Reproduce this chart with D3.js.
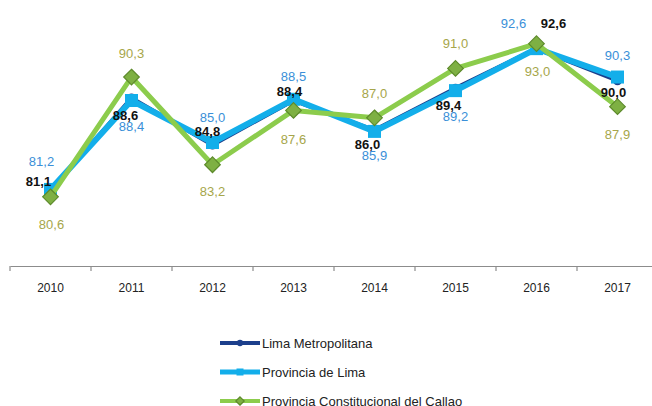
<!DOCTYPE html>
<html>
<head>
<meta charset="utf-8">
<script src="https://cdn.jsdelivr.net/npm/d3@7"></script>
<style>
  body { margin: 0; background: #fff; }
  svg { display: block; font-family: "Liberation Sans", Arial, sans-serif; }
</style>
</head>
<body>
<svg id="chart" width="652" height="406"></svg>
<script>
// data
var years = ["2010", "2011", "2012", "2013", "2014", "2015", "2016", "2017"];
var limaMetro = [81.1, 88.6, 84.8, 88.4, 86.0, 89.4, 92.6, 90.0];
var provLima = [81.2, 88.4, 85.0, 88.5, 85.9, 89.2, 92.6, 90.3];
var callao = [80.6, 90.3, 83.2, 87.6, 87.0, 91.0, 93.0, 87.9];
var seriesNames = ["Lima Metropolitana", "Provincia de Lima", "Provincia Constitucional del Callao"];

// label offsets (dx, dy) relative to each point
var metroOff = [[-12,-9],[-6,17],[-5,-14],[-4,-9],[-7,14],[-7,17],[17,-25],[-4,12]];
var provOff = [[-9,-28],[0,26],[0,-25],[0,-23],[0,24],[0,26],[-23,-25],[0,-22]];
var callaoOff = [[1,28],[0,-24],[0,27],[0,29],[0,-24],[0,-25],[1,28],[0,28]];

var svg = d3.select("#chart");

var x = d3.scaleBand().domain(years).range([10, 658]);
var y = d3.scaleLinear().domain([75, 95]).range([266, 19]);
var cx = function(i){ return x(years[i]) + x.bandwidth() / 2; };

// axis
var axis = svg.append("g")
    .attr("transform", "translate(0,266)")
    .call(d3.axisBottom(x).tickSize(0).tickPadding(17));
axis.select(".domain").attr("stroke", "#8c8c8c").attr("stroke-width", 1.2);
axis.selectAll(".tick text").attr("font-size", 12).attr("fill", "#222")
    .attr("font-family", "'Liberation Sans', Arial, sans-serif");
var bounds = years.map(function(d){ return x(d); });
bounds.push(x.range()[1]);
axis.selectAll("line.bound")
    .data(bounds)
    .enter()
    .append("line")
    .attr("class", "bound")
    .attr("x1", function(d){ return d; })
    .attr("x2", function(d){ return d; })
    .attr("y1", 0).attr("y2", 5)
    .attr("stroke", "#8c8c8c").attr("stroke-width", 1.2);

var line = d3.line()
    .x(function(d, i){ return cx(i); })
    .y(function(d){ return y(d); });

var series = [
    {vals: limaMetro, color: "#1c3f8c", width: 4, marker: "circle", labelColor: "#111", off: metroOff, bold: true},
    {vals: provLima, color: "#13aeea", width: 6, marker: "square", labelColor: "#3a8fd8", off: provOff, bold: false},
    {vals: callao, color: "#8ccc4c", width: 5, marker: "diamond", labelColor: "#a6a64a", off: callaoOff, bold: false}
];

function drawMarker(g, s, px, py, size){
    if(s.marker == "circle"){
        g.append("circle").attr("cx", px).attr("cy", py).attr("r", size * 0.45)
            .attr("fill", s.color);
    }
    else if(s.marker == "square"){
        g.append("rect").attr("x", px - size / 2).attr("y", py - size / 2)
            .attr("width", size).attr("height", size).attr("fill", s.color);
    }
    else{
        var h = size * 0.6;
        g.append("path")
            .attr("d", "M" + px + "," + (py - h) + "L" + (px + h) + "," + py + "L" + px + "," + (py + h) + "L" + (px - h) + "," + py + "Z")
            .attr("fill", "#7eb043").attr("stroke", "#5d8a2b").attr("stroke-width", 1.2);
    }
}

series.forEach(function(s){
    var g = svg.append("g");
    g.append("path")
        .datum(s.vals)
        .attr("d", line)
        .attr("fill", "none")
        .attr("stroke", s.color)
        .attr("stroke-width", s.width)
        .attr("stroke-linejoin", "round");
    s.vals.forEach(function(v, i){
        drawMarker(g, s, cx(i), y(v), s.marker == "circle" ? 10 : 13);
    });
});

// value labels on top
series.forEach(function(s){
    svg.append("g").selectAll("text")
        .data(s.vals)
        .enter()
        .append("text")
        .attr("x", function(d, i){ return cx(i) + s.off[i][0]; })
        .attr("y", function(d, i){ return y(d) + s.off[i][1]; })
        .attr("dy", "0.35em")
        .attr("text-anchor", "middle")
        .attr("font-size", 13)
        .attr("font-weight", s.bold ? "bold" : "normal")
        .attr("fill", s.labelColor)
        .text(function(d){ return d.toFixed(1).replace(".", ","); });
});

// legend
var legend = svg.append("g");
series.forEach(function(s, i){
    var ly = 343 + i * 29;
    legend.append("line")
        .attr("x1", 220).attr("x2", 260)
        .attr("y1", ly).attr("y2", ly)
        .attr("stroke", s.color).attr("stroke-width", s.width == 6 ? 5 : 4);
    drawMarker(legend, s, 240, ly, 7);
    legend.append("text")
        .attr("x", 262).attr("y", ly)
        .attr("dy", "0.35em")
        .attr("font-size", 13)
        .attr("fill", "#222")
        .text(seriesNames[i]);
});
</script>
</body>
</html>
